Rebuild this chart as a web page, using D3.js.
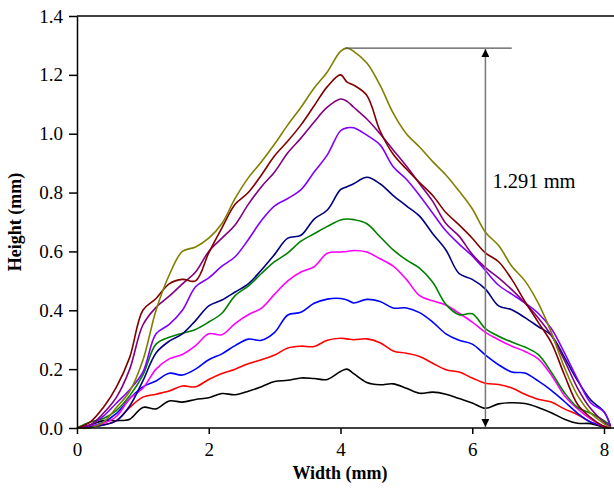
<!DOCTYPE html>
<html>
<head>
<meta charset="utf-8">
<script src="https://cdn.jsdelivr.net/npm/d3@7"></script>
<style>
  body { margin: 0; background: #fff; }
  svg { display: block; font-family: "Liberation Serif", "Times New Roman", serif; }
  .axis path, .axis line { stroke: #000; stroke-width: 1.5; }
  .axis text { font-size: 19px; fill: #000; font-family: "Liberation Serif", serif; }
</style>
</head>
<body>
<div id="chart"></div>
<script>
// Height profiles (mm) sampled along the width (mm)
var width_mm = [0, 0.2, 0.4, 0.6, 0.8, 1.0, 1.2, 1.4, 1.6, 1.8, 2.0, 2.2, 2.4, 2.6, 2.8, 3.0, 3.2, 3.4, 3.6, 3.8,
  4.0, 4.1, 4.2, 4.4, 4.6, 4.8, 5.0, 5.2, 5.4, 5.6, 5.8, 6.0, 6.2, 6.4, 6.6, 6.8, 7.0, 7.2, 7.4, 7.6, 7.8, 8.0, 8.1];

var black = [0, 0.01, 0.025, 0.025, 0.03, 0.07, 0.065, 0.092, 0.088, 0.097, 0.103, 0.117, 0.113, 0.125, 0.14, 0.158, 0.162, 0.17, 0.168, 0.165,
  0.192, 0.2, 0.185, 0.155, 0.147, 0.15, 0.135, 0.118, 0.122, 0.115, 0.1, 0.085, 0.067, 0.082, 0.086, 0.083, 0.07, 0.052, 0.03, 0.016, 0.015, 0.003, 0];
var red = [0, 0.003, 0.01, 0.025, 0.07, 0.105, 0.115, 0.126, 0.143, 0.14, 0.165, 0.185, 0.2, 0.218, 0.232, 0.248, 0.272, 0.278, 0.277, 0.298,
  0.305, 0.303, 0.3, 0.303, 0.29, 0.262, 0.254, 0.243, 0.22, 0.198, 0.19, 0.17, 0.152, 0.148, 0.136, 0.115, 0.098, 0.088, 0.065, 0.045, 0.02, 0.005, 0];
var blue = [0, 0.005, 0.02, 0.05, 0.1, 0.14, 0.16, 0.186, 0.18, 0.2, 0.232, 0.252, 0.28, 0.302, 0.298, 0.325, 0.384, 0.393, 0.424, 0.438,
  0.44, 0.435, 0.425, 0.437, 0.43, 0.408, 0.408, 0.392, 0.36, 0.32, 0.298, 0.285, 0.248, 0.215, 0.19, 0.187, 0.16, 0.128, 0.09, 0.05, 0.02, 0.006, 0];
var magenta = [0, 0.005, 0.015, 0.04, 0.1, 0.135, 0.2, 0.235, 0.25, 0.28, 0.32, 0.317, 0.355, 0.385, 0.407, 0.455, 0.5, 0.53, 0.548, 0.594,
  0.598, 0.6, 0.603, 0.598, 0.575, 0.55, 0.505, 0.45, 0.432, 0.418, 0.39, 0.36, 0.325, 0.3, 0.278, 0.26, 0.235, 0.18, 0.11, 0.065, 0.03, 0.005, 0];
var green = [0, 0.02, 0.032, 0.06, 0.11, 0.18, 0.285, 0.308, 0.322, 0.335, 0.36, 0.39, 0.45, 0.482, 0.525, 0.565, 0.595, 0.635, 0.66, 0.685,
  0.707, 0.71, 0.708, 0.694, 0.65, 0.605, 0.571, 0.543, 0.495, 0.42, 0.385, 0.388, 0.338, 0.312, 0.292, 0.275, 0.25, 0.19, 0.12, 0.07, 0.05, 0.025, 0.01];
var navy = [0, 0.003, 0.01, 0.025, 0.075, 0.16, 0.255, 0.295, 0.32, 0.365, 0.415, 0.435, 0.462, 0.49, 0.537, 0.59, 0.645, 0.655, 0.71, 0.741,
  0.81, 0.82, 0.83, 0.852, 0.83, 0.79, 0.755, 0.72, 0.66, 0.605, 0.525, 0.505, 0.472, 0.415, 0.402, 0.375, 0.345, 0.315, 0.24, 0.16, 0.095, 0.055, 0.005];
var violet = [0, 0.01, 0.04, 0.085, 0.13, 0.19, 0.32, 0.352, 0.4, 0.48, 0.51, 0.55, 0.582, 0.64, 0.705, 0.755, 0.78, 0.81, 0.87, 0.928,
  1.01, 1.02, 1.02, 0.995, 0.962, 0.888, 0.845, 0.79, 0.73, 0.67, 0.625, 0.585, 0.535, 0.485, 0.455, 0.425, 0.39, 0.338, 0.255, 0.165, 0.085, 0.055, 0.005];
var purple = [0, 0.01, 0.05, 0.105, 0.2, 0.35, 0.41, 0.448, 0.49, 0.53, 0.6, 0.645, 0.69, 0.76, 0.82, 0.87, 0.935, 0.985, 1.04, 1.09,
  1.118, 1.11, 1.09, 1.05, 1.0, 0.945, 0.89, 0.83, 0.77, 0.695, 0.652, 0.59, 0.545, 0.51, 0.47, 0.425, 0.375, 0.315, 0.23, 0.135, 0.065, 0.02, 0.005];
var darkred = [0, 0.02, 0.07, 0.14, 0.24, 0.4, 0.44, 0.49, 0.505, 0.5, 0.595, 0.68, 0.76, 0.8, 0.86, 0.925, 0.975, 1.03, 1.095, 1.16,
  1.2, 1.175, 1.165, 1.13, 1.01, 0.93, 0.88, 0.834, 0.79, 0.732, 0.69, 0.645, 0.595, 0.565, 0.505, 0.43, 0.36, 0.29, 0.18, 0.08, 0.035, 0.005, 0];
var olive = [0, 0, 0.02, 0.07, 0.125, 0.23, 0.4, 0.52, 0.6, 0.615, 0.645, 0.695, 0.78, 0.85, 0.905, 0.965, 1.03, 1.09, 1.155, 1.21,
  1.28, 1.291, 1.28, 1.24, 1.165, 1.07, 1.0, 0.955, 0.905, 0.86, 0.805, 0.745, 0.665, 0.62, 0.55, 0.5, 0.425, 0.325, 0.205, 0.11, 0.05, 0.015, 0];

var seriesList = [black, red, blue, magenta, green, navy, violet, purple, darkred, olive];
var seriesColors = ["#000000", "#ff0000", "#0000ff", "#ff00ff", "#008000", "#000080", "#8000ff", "#800080", "#800000", "#808000"];

var xTicks = [0, 2, 4, 6, 8];
var yTicks = [0, 0.2, 0.4, 0.6, 0.8, 1.0, 1.2, 1.4];
var maxHeight = 1.291;
var markerX = 6.2;

var W = 614, H = 490;
var margin = {top: 16, left: 77, bottom: 62};

var svg = d3.select("#chart").append("svg")
  .attr("width", W)
  .attr("height", H);

var x = d3.scaleLinear().domain([0, 8]).range([margin.left, 604]);
var y = d3.scaleLinear().domain([0, 1.4]).range([H - margin.bottom, margin.top]);

// arrow head
svg.append("defs").append("marker")
  .attr("id", "arrow")
  .attr("viewBox", "0 0 10 10")
  .attr("refX", 10).attr("refY", 5)
  .attr("markerWidth", 9).attr("markerHeight", 8)
  .attr("markerUnits", "userSpaceOnUse")
  .attr("orient", "auto-start-reverse")
  .append("path")
  .attr("d", "M0,0 L10,5 L0,10 z")
  .attr("fill", "#000");

// curves
var line = d3.line()
  .x(function(d, i) { return x(width_mm[i]); })
  .y(function(d) { return y(d); })
  .curve(d3.curveCatmullRom.alpha(0.5));

svg.append("g").selectAll("path")
  .data(seriesList)
  .enter().append("path")
  .attr("fill", "none")
  .attr("stroke", function(d, i) { return seriesColors[i]; })
  .attr("stroke-width", 1.6)
  .attr("stroke-linejoin", "round")
  .attr("d", line);

// max height annotation
svg.append("line")
  .attr("x1", x(4.07)).attr("x2", x(6.6))
  .attr("y1", y(maxHeight)).attr("y2", y(maxHeight))
  .attr("stroke", "#555").attr("stroke-width", 1.2);
svg.append("line")
  .attr("x1", x(markerX)).attr("x2", x(markerX))
  .attr("y1", y(maxHeight) + 1).attr("y2", y(0) - 1)
  .attr("stroke", "#777").attr("stroke-width", 1.5)
  .attr("marker-start", "url(#arrow)")
  .attr("marker-end", "url(#arrow)");
svg.append("text")
  .attr("x", x(markerX) + 7).attr("y", 188)
  .attr("font-size", 20.5)
  .text(maxHeight.toFixed(3) + " mm");

// frame top
svg.append("line")
  .attr("x1", margin.left).attr("x2", W)
  .attr("y1", y(1.4)).attr("y2", y(1.4))
  .attr("stroke", "#000").attr("stroke-width", 1.5);

// axes
svg.append("g")
  .attr("class", "axis")
  .attr("transform", "translate(0," + y(0) + ")")
  .call(d3.axisBottom(x).tickValues(xTicks).tickFormat(d3.format("d")).tickSize(6).tickSizeOuter(0).tickPadding(9))
  .select(".domain").attr("d", "M" + margin.left + ",0H" + W);

svg.append("g")
  .attr("class", "axis")
  .attr("transform", "translate(" + margin.left + ",0)")
  .call(d3.axisLeft(y).tickValues(yTicks).tickFormat(d3.format(".1f")).tickSize(8).tickSizeOuter(0).tickPadding(6));

// axis titles
svg.append("text")
  .attr("x", 340).attr("y", 479)
  .attr("text-anchor", "middle")
  .attr("font-weight", "bold")
  .attr("font-size", 18)
  .text("Width (mm)");
svg.append("text")
  .attr("transform", "translate(21,222) rotate(-90)")
  .attr("text-anchor", "middle")
  .attr("font-weight", "bold")
  .attr("font-size", 18)
  .text("Height (mm)");
</script>
</body>
</html>
